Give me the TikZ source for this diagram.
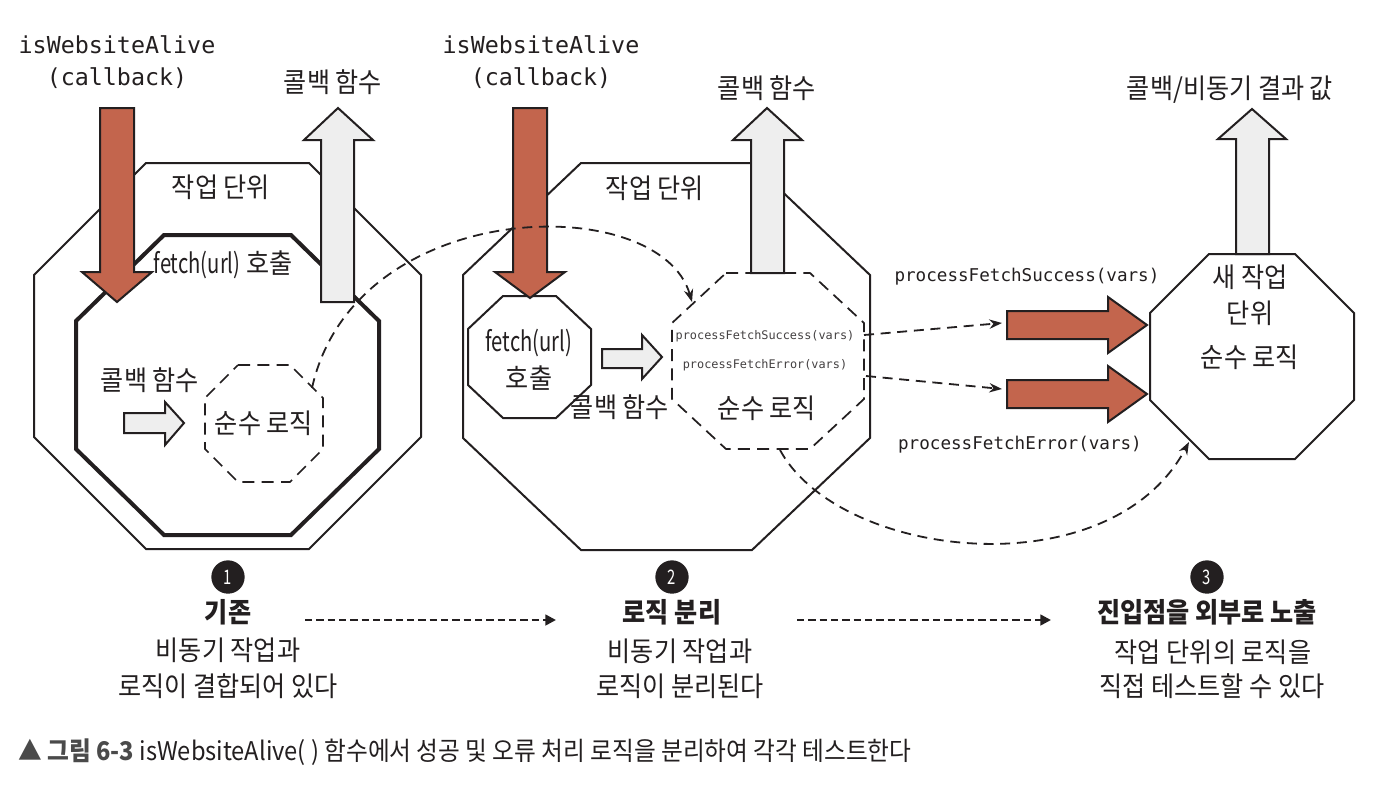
\documentclass[tikz,border=0pt]{standalone}
\usepackage{fontspec}
\setmainfont{Noto Sans CJK KR}[FakeStretch=0.92]
\newfontfamily\krnarrow{Noto Sans CJK KR}[FakeStretch=0.74]
\setmonofont{DejaVu Sans Mono}
\usetikzlibrary{arrows.meta}
\definecolor{ink}{HTML}{231F20}
\definecolor{redf}{HTML}{C3654D}
\definecolor{grayf}{HTML}{EEEEEE}
\definecolor{capgray}{HTML}{4A4A4A}
\newcommand\octpath[6]{(#1+#5,#2) -- (#3-#5,#2) -- (#3,#2+#6) -- (#3,#4-#6) -- (#3-#5,#4) -- (#1+#5,#4) -- (#1,#4-#6) -- (#1,#2+#6) -- cycle}
\newcommand\fu{{\krnarrow fetch(url)}}
\tikzset{
  kr/.style={font=\fontsize{20.5}{23}\selectfont, text=ink, inner sep=0pt},
  krb/.style={font=\fontsize{20.5}{23}\selectfont\bfseries, text=ink, inner sep=0pt},
  mono/.style={font=\ttfamily\fontsize{17.5}{20}\selectfont, text=ink, inner sep=0pt},
  monom/.style={font=\ttfamily\fontsize{13.2}{15}\selectfont, text=ink, inner sep=0pt},
  monos/.style={font=\ttfamily\fontsize{8.9}{10}\selectfont, text=ink!85, inner sep=0pt},
  octline/.style={draw=ink, line width=1.5pt},
  octthick/.style={draw=ink, line width=3pt},
  octdash/.style={draw=ink, line width=1.3pt, dash pattern=on 9pt off 5.5pt},
  redarrow/.style={fill=redf, draw=ink, line width=1.5pt},
  grayarrow/.style={fill=grayf, draw=ink, line width=1.5pt},
  curve/.style={draw=ink, line width=1.35pt, dash pattern=on 7.5pt off 5pt, -{Stealth[length=9.5pt,width=7pt]}},
  flow/.style={draw=ink, line width=1.9pt, dash pattern=on 5.5pt off 3pt, -{Triangle[length=8pt,width=8pt]}},
  num/.style={circle, fill=ink, text=white, minimum size=25pt, inner sep=0pt, font=\krnarrow\fontsize{15}{16}\selectfont},
}
\begin{document}
\begin{tikzpicture}[x=0.75pt, y=-0.75pt, line join=miter]
\useasboundingbox (0,0) rectangle (1390,794);
\fill[white] (0,0) rectangle (1390,794);

% ---------------- panel 1 ----------------
\draw[octline] \octpath{34}{163}{421}{549}{112}{112};
\draw[octthick] \octpath{76}{235}{379}{535}{88}{86};
\draw[octdash] \octpath{205}{365}{323}{482}{33}{33};
\coordinate (p1pure) at (264,423);
\coordinate (p1out) at (312,388);

\draw[redarrow] (100,108) -- (134,108) -- (134,272) -- (152,272) -- (117,302) -- (82,272) -- (100,272) -- cycle;
\draw[grayarrow] (321,302) -- (321,140) -- (304,140) -- (338,108) -- (373,140) -- (354,140) -- (354,302) -- cycle;
\draw[grayarrow] (124,413) -- (165,413) -- (165,402) -- (184,423) -- (165,445) -- (165,433) -- (124,433) -- cycle;

\node[mono] (iwa1) at (117,45) {isWebsiteAlive};
\node[mono] (cb1) at (117,78) {(callback)};
\node[kr] (ret1) at (333,82) {콜백 함수};
\node[kr] (unit1) at (221,187) {작업 단위};
\node[kr] (fetch1) at (223,265) {\fu{} 호출};
\node[kr] (cbf1) at (150,380) {콜백 함수};
\node[kr] (pure1) at (p1pure) {순수 로직};

% ---------------- panel 2 ----------------
\draw[octline] \octpath{463}{163}{870}{550}{118}{112};
\draw[octline, fill=white] \octpath{468}{296}{591}{418}{35}{33};
\draw[octdash] \octpath{672}{273}{864}{449}{54}{50};
\coordinate (p2in) at (692,302);
\coordinate (p2bot) at (780,450);
\coordinate (p2s) at (864,335);
\coordinate (p2e) at (866,376);

\draw[redarrow] (513,108) -- (547,108) -- (547,272) -- (565,272) -- (530,298) -- (495,272) -- (513,272) -- cycle;
\draw[grayarrow] (751,273) -- (751,140) -- (733,140) -- (767,108) -- (802,140) -- (784,140) -- (784,273) -- cycle;
\draw[grayarrow] (602,349) -- (642,349) -- (642,335) -- (662,357) -- (642,379) -- (642,368) -- (602,368) -- cycle;

\node[mono] (iwa2) at (541,45) {isWebsiteAlive};
\node[mono] (cb2) at (541,78) {(callback)};
\node[kr] (ret2) at (767,88) {콜백 함수};
\node[kr] (unit2) at (655,188) {작업 단위};
\node[kr] (fetch2a) at (529,343) {\fu};
\node[kr] (fetch2b) at (529,378) {호출};
\node[kr] (cbf2) at (620,407) {콜백 함수};
\node[monos] (pfs2) at (765,336) {processFetchSuccess(vars)};
\node[monos] (pfe2) at (765,365) {processFetchError(vars)};
\node[kr] (pure2) at (767,408) {순수 로직};

% ---------------- panel 3 ----------------
\draw[octline, fill=white] \octpath{1150}{254}{1354}{459}{59}{59};
\coordinate (p3in) at (1189,442);
\draw[grayarrow] (1236,254) -- (1236,139) -- (1218,139) -- (1252,109) -- (1286,139) -- (1269,139) -- (1269,254) -- cycle;
\draw[redarrow] (1007,311) -- (1108,311) -- (1108,297) -- (1147,325) -- (1108,353) -- (1108,339) -- (1007,339) -- cycle;
\draw[redarrow] (1007,380) -- (1108,380) -- (1108,366) -- (1147,394) -- (1108,422) -- (1108,408) -- (1007,408) -- cycle;
\coordinate (r1) at (1002,323);
\coordinate (r2) at (1002,389);

\node[kr] (ret3) at (1230,90) {콜백/비동기 결과 값};
\node[monom] (pfs3) at (1027,277) {processFetchSuccess(vars)};
\node[monom] (pfe3) at (1020,445) {processFetchError(vars)};
\node[kr] (new3a) at (1250,277) {새 작업};
\node[kr] (new3b) at (1250,313) {단위};
\node[kr] (pure3) at (1250,357) {순수 로직};

% ---------------- connectors ----------------
\draw[curve] (p1out) .. controls (355,195) and (660,190) .. (p2in);
\draw[curve] (p2bot) .. controls (840,560) and (1110,590) .. (p3in);
\draw[curve] (p2s) -- (r1);
\draw[curve] (p2e) -- (r2);

% ---------------- bottom ----------------
\node[num] (n1) at (228,577) {1};
\node[num] (n2) at (672,577) {2};
\node[num] (n3) at (1207,577) {3};
\node[krb] (h1) at (228,612) {기존};
\node[krb] (h2) at (672,612) {로직 분리};
\node[krb] (h3) at (1207,612) {진입점을 외부로 노출};
\node[kr] (d1a) at (228,650) {비동기 작업과};
\node[kr] (d1b) at (228,686) {로직이 결합되어 있다};
\node[kr] (d2a) at (680,651) {비동기 작업과};
\node[kr] (d2b) at (680,686) {로직이 분리된다};
\node[kr] (d3a) at (1213,652) {작업 단위의 로직을};
\node[kr] (d3b) at (1212,686) {직접 테스트할 수 있다};
\coordinate (f1s) at (305,620);
\coordinate (f1e) at (556,620);
\coordinate (f2s) at (797,620);
\coordinate (f2e) at (1051,620);
\draw[flow] (f1s) -- (f1e);
\draw[flow] (f2s) -- (f2e);

\node[anchor=west, inner sep=0pt, text=ink, font=\fontsize{19.3}{21}\selectfont] (cap) at (18,752)
  {{\bfseries\color{capgray}▲ 그림 6-3} isWebsiteAlive( ) 함수에서 성공 및 오류 처리 로직을 분리하여 각각 테스트한다};
\end{tikzpicture}
\end{document}
